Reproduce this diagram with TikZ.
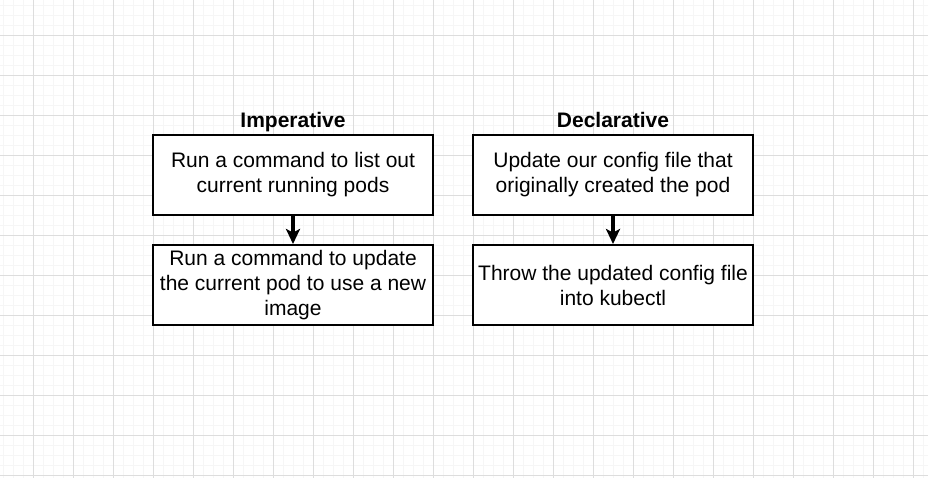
\documentclass[tikz,border=0pt]{standalone}
\usepackage{fontspec}
\setmainfont{Liberation Sans}
\usetikzlibrary{arrows.meta}
\definecolor{gridminor}{HTML}{F6F6F6}
\definecolor{gridmajor}{HTML}{DDDDDD}
\tikzset{
  box/.style={draw=black, line width=2pt, fill=white, minimum width=280pt, minimum height=80pt, inner sep=0pt, align=center, font=\fontsize{21}{25}\selectfont, text=black},
  title/.style={font=\fontsize{21}{25}\selectfont\bfseries, text=black, inner sep=0pt, anchor=base},
  flow/.style={line width=3.2pt, -{Stealth[length=15pt,width=14pt,inset=3.5pt]}},
  minorline/.style={gridminor, line width=1pt},
  majorline/.style={gridmajor, line width=1pt}
}
\begin{document}
\begin{tikzpicture}[x=1pt,y=-1pt]
\useasboundingbox (0,0) rectangle (928,478);
\fill[white] (0,0) rectangle (928,478);
% grid
\foreach \i in {0,...,92} {
  \draw[minorline] ({3.5+10*\i},0) -- ({3.5+10*\i},478);
}
\foreach \j in {0,...,47} {
  \draw[minorline] (0,{5.5+10*\j}) -- (928,{5.5+10*\j});
}
\foreach \i in {0,...,23} {
  \draw[majorline] ({33.5+40*\i},0) -- ({33.5+40*\i},478);
}
\foreach \j in {0,...,11} {
  \draw[majorline] (0,{35.5+40*\j}) -- (928,{35.5+40*\j});
}
% titles
\node[title] (timp) at (293,128) {Imperative};
\node[title] (tdec) at (613,128) {Declarative};
% boxes
\node[box] (i1) at (293,175) {\raisebox{-3.5pt}{\parbox{270pt}{\centering Run a command to list out\\current running pods}}};
\node[box] (i2) at (293,285) {\raisebox{-1pt}{\parbox{275pt}{\centering Run a command to update\\the current pod to use a new\\image}}};
\node[box] (d1) at (613,175) {\raisebox{-3.5pt}{\parbox{270pt}{\centering Update our config file that\\originally created the pod}}};
\node[box] (d2) at (613,285) {\raisebox{-3.5pt}{\parbox{275pt}{\centering Throw the updated config file\\into kubectl}}};
% arrows
\draw[flow] (i1.south) -- (i2.north);
\draw[flow] (d1.south) -- (d2.north);
\end{tikzpicture}
\end{document}
